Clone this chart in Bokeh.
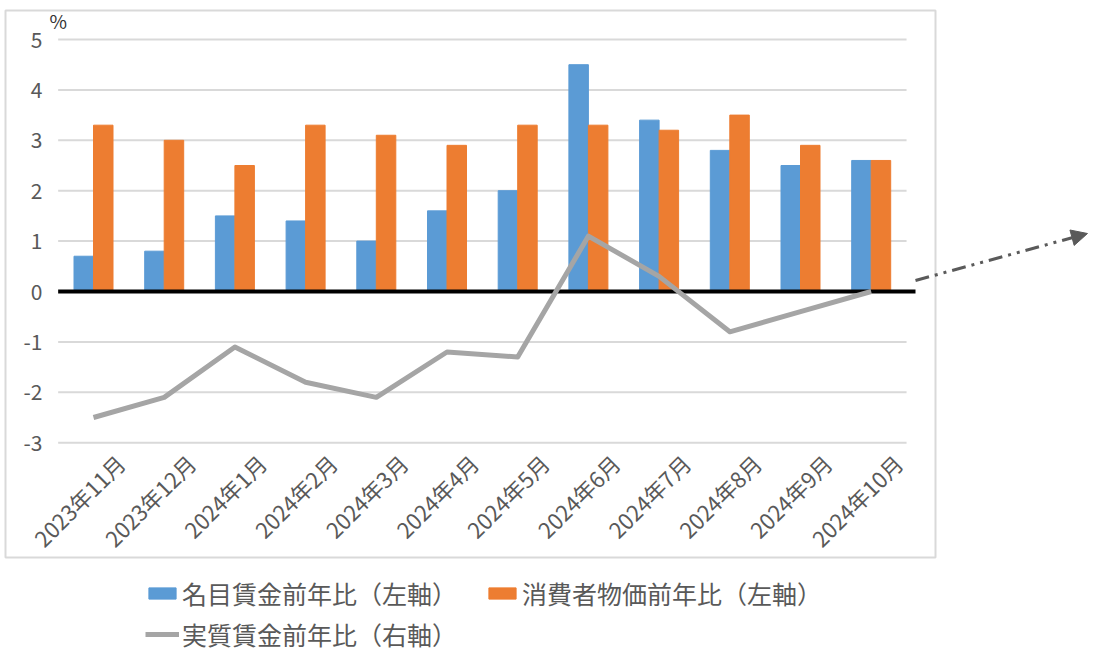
import numpy as np
from bokeh.plotting import figure
from bokeh.models import (Range1d, LinearAxis, FixedTicker, Legend, LegendItem,
                          Label, Arrow, NormalHead)
from bokeh.embed import file_html
from bokeh.resources import INLINE

# ---- data ----
months = ["2023年11月", "2023年12月", "2024年1月", "2024年2月", "2024年3月", "2024年4月",
          "2024年5月", "2024年6月", "2024年7月", "2024年8月", "2024年9月", "2024年10月"]
nominal = [0.7, 0.8, 1.5, 1.4, 1.0, 1.6, 2.0, 4.5, 3.4, 2.8, 2.5, 2.6]   # 名目賃金
cpi = [3.3, 3.0, 2.5, 3.3, 3.1, 2.9, 3.3, 3.3, 3.2, 3.5, 2.9, 2.6]       # 消費者物価
real = [-2.5, -2.1, -1.1, -1.8, -2.1, -1.2, -1.3, 1.1, 0.3, -0.8, -0.4, 0.0]  # 実質賃金
y_ticks = [-3, -2, -1, 0, 1, 2, 3, 4, 5]
y_tick_labels = ["-3", "-2", "-1", "0", "1", "2", "3", "4", "5"]

# ---- geometry (pixels) ----
W, H = 1096, 652
X0, DX = 93.0, 70.7      # canvas x of first category, px per category
Y0, DY = 291.0, 50.4     # canvas y of value 0, px per unit


def px2x(px):
    return (px - X0) / DX


def px2y(py):
    return (Y0 - py) / DY


FONT = "Noto Sans CJK JP"
TXT = "#595959"

p = figure(width=W, height=H, output_backend="svg", toolbar_location=None,
           x_range=Range1d(px2x(0), px2x(W)), y_range=Range1d(px2y(H), px2y(0)),
           x_axis_location=None, y_axis_location=None, min_border=0,
           outline_line_color=None, background_fill_color="white",
           border_fill_color="white")
p.grid.visible = False
p.extra_x_ranges = {"lab": Range1d(px2x(0) - 0.38, px2x(W) - 0.38)}

# outer chart border
p.quad(left=px2x(5), right=px2x(935), top=px2y(10), bottom=px2y(557),
       fill_color=None, line_color="#D9D9D9", line_width=2)

# gridlines
gy = [t for t in y_ticks if t != 0]
p.segment(x0=[-0.5] * len(gy), x1=[11.5] * len(gy), y0=gy, y1=gy,
          line_color="#D9D9D9", line_width=2)

idx = np.arange(len(months))
bw = 19.5 / DX
b1 = p.vbar(x=idx - bw / 2, top=nominal, bottom=0, width=bw,
            fill_color="#5B9BD5", line_color="#5B9BD5")
b2 = p.vbar(x=idx + bw / 2, top=cpi, bottom=0, width=bw,
            fill_color="#ED7D31", line_color="#ED7D31")

# zero line
p.segment(x0=[-0.5], x1=[px2x(915)], y0=[0], y1=[0], line_color="black", line_width=4)

ln = p.line(x=idx, y=real, line_color="#A5A5A5", line_width=5, line_join="round")

# arrow
p.add_layout(Arrow(end=NormalHead(size=16, fill_color="#5a5a5a", line_color="#5a5a5a"),
                   x_start=px2x(915), y_start=px2y(280), x_end=px2x(1087), y_end=px2y(233),
                   line_color="#5a5a5a", line_width=3, line_dash="14 6 3 6 3 6"))

# axes
yaxis = LinearAxis(fixed_location=px2x(58), ticker=FixedTicker(ticks=y_ticks),
                   major_label_overrides=dict(zip(y_ticks, y_tick_labels)),
                   axis_line_color=None, major_tick_line_color=None,
                   minor_tick_line_color=None, major_tick_out=0, minor_tick_out=0,
                   major_tick_in=0, minor_tick_in=0,
                   major_label_standoff=16, major_label_text_font=FONT,
                   major_label_text_font_size="21px", major_label_text_color=TXT)
p.add_layout(yaxis, "left")

xaxis = LinearAxis(x_range_name="lab", fixed_location=-3,
                   ticker=FixedTicker(ticks=list(range(len(months)))),
                   major_label_overrides={i: m for i, m in enumerate(months)},
                   major_label_orientation=np.pi / 4,
                   axis_line_color=None, major_tick_line_color=None,
                   minor_tick_line_color=None, major_tick_out=0, minor_tick_out=0,
                   major_tick_in=0, minor_tick_in=0,
                   major_label_standoff=16, major_label_text_font=FONT,
                   major_label_text_font_size="22px", major_label_text_color=TXT)
p.add_layout(xaxis, "below")

p.add_layout(Label(x=49, y=H - 6, x_units="screen", y_units="screen", text="%",
                   text_baseline="top", text_align="left", text_font=FONT,
                   text_font_size="19px", text_color="#333333"))

legend = Legend(items=[LegendItem(label="名目賃金前年比（左軸）", renderers=[b1]),
                       LegendItem(label="消費者物価前年比（左軸）", renderers=[b2]),
                       LegendItem(label="実質賃金前年比（右軸）", renderers=[ln])],
                orientation="horizontal", ncols=2, location=(145, 0),
                glyph_width=34, glyph_height=14, label_standoff=3, label_width=298,
                spacing=5, padding=0, margin=0, border_line_color=None,
                background_fill_alpha=0, label_text_font=FONT,
                label_text_font_size="25px", label_text_color=TXT)
p.add_layout(legend)

open("out.html", "w").write(file_html(p, INLINE))
